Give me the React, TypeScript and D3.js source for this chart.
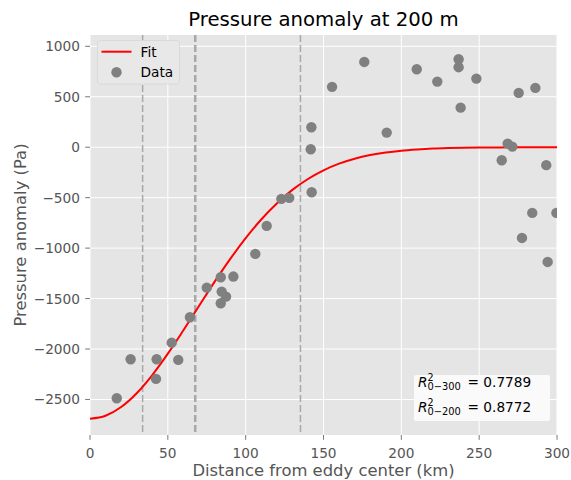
import React from "react";
import * as d3 from "d3";

// Observations: distance from eddy center (km) and pressure anomaly (Pa)
const dataX = [
  17.2, 26.1, 42.4, 42.8, 52.5, 56.7, 64.2, 75.0, 84.0, 92.1, 84.6, 87.4, 84.0,
  106.2, 113.5, 122.9, 128.0, 142.2, 141.8, 142.4, 190.6,
  155.5, 176.2, 209.9, 223.1, 236.8, 236.8, 238.1, 248.2, 264.5, 268.3, 271.3,
  275.4, 286.1, 293.1, 284.1, 299.6, 277.5, 294.0,
];
const dataY = [
  -2488, -2101, -2296, -2101, -1937, -2108, -1685, -1392, -1289, -1282, -1431, -1481, -1546,
  -1057, -780, -512, -502, 198, -20, -446, 145,
  598, 845, 773, 650, 872, 793, 392, 680, -129, 36, 6,
  538, 588, -178, -651, -651, -899, -1137,
];

// Fit curve
const fitX = [0, 10, 20, 30, 40, 50, 60, 70, 80, 90, 100, 110, 120, 130, 140, 150, 160, 170, 180, 190, 200, 210, 220, 230, 240, 250, 260, 270, 280, 290, 300];
const fitY = [-2690, -2661, -2575, -2438, -2258, -2046, -1814, -1574, -1335, -1109, -901, -716, -557, -423, -315, -229, -163, -114, -78, -52, -34, -22, -13, -8, -5, -3, -2, -1, -0.5, 0, 0];

// Reference distances (vertical dashed lines)
const refLines = [33.8, 67.6, 135.2];
const refWidths = [1.5, 2.5, 1.5];

const xTicks = [0, 50, 100, 150, 200, 250, 300];
const yTicks = [1000, 500, 0, -500, -1000, -1500, -2000, -2500];

const r2Labels = ["0\u2212300", "0\u2212200"];
const r2Values = ["0.7789", "0.8772"];

const W = 571;
const H = 480;
const L = 90;
const R = 557;
const T = 35;
const B = 435;

const FONT = "'DejaVu Sans', sans-serif";
const GREY = "#555555";
const TICK_FS = 13.7;

export default function App() {
  const x = d3.scaleLinear().domain([0, 300]).range([L, R]);
  const y = d3.scaleLinear().domain([-2852, 1112]).range([B, T]);

  const line = d3
    .line<number>()
    .x((_, i) => x(fitX[i]))
    .y((d) => y(d))
    .curve(d3.curveMonotoneX);

  const fmt = (v: number) => (v < 0 ? "\u2212" + Math.abs(v) : String(v));

  return (
    <svg
      width={W}
      height={H}
      style={{ position: "absolute", left: 0, top: 0, display: "block" }}
      fontFamily={FONT}
    >
      <rect x={0} y={0} width={W} height={H} fill="white" />
      <defs>
        <clipPath id="plot">
          <rect x={L} y={T} width={R - L} height={B - T} />
        </clipPath>
      </defs>
      <rect x={L} y={T} width={R - L} height={B - T} fill="#E5E5E5" />
      {/* grid */}
      {xTicks.map((t) => (
        <line key={"gx" + t} x1={x(t)} x2={x(t)} y1={T} y2={B} stroke="white" strokeWidth={1} />
      ))}
      {yTicks.map((t) => (
        <line key={"gy" + t} x1={L} x2={R} y1={y(t)} y2={y(t)} stroke="white" strokeWidth={1} />
      ))}
      <g clipPath="url(#plot)">
        {refLines.map((v, i) => (
          <line
            key={"ref" + i}
            x1={x(v)}
            x2={x(v)}
            y1={T}
            y2={B}
            stroke="#A8A8A8"
            strokeWidth={refWidths[i]}
            strokeDasharray="7 3"
          />
        ))}
        <path d={line(fitY) || ""} fill="none" stroke="red" strokeWidth={2} />
        {dataX.map((v, i) => (
          <circle key={"p" + i} cx={x(v)} cy={y(dataY[i])} r={5.2} fill="#808080" />
        ))}
      </g>
      {/* x ticks */}
      {xTicks.map((t) => (
        <g key={"xt" + t}>
          <line x1={x(t)} x2={x(t)} y1={B} y2={B + 4.8} stroke={GREY} strokeWidth={0.8} />
          <text x={x(t)} y={B + 23} textAnchor="middle" fontSize={TICK_FS} fill={GREY}>
            {t}
          </text>
        </g>
      ))}
      {/* y ticks */}
      {yTicks.map((t) => (
        <g key={"yt" + t}>
          <line x1={L - 4.8} x2={L} y1={y(t)} y2={y(t)} stroke={GREY} strokeWidth={0.8} />
          <text x={L - 10} y={y(t) + 5} textAnchor="end" fontSize={TICK_FS} fill={GREY}>
            {fmt(t)}
          </text>
        </g>
      ))}
      {/* axis labels */}
      <text x={(L + R) / 2} y={476} textAnchor="middle" fontSize={16.4} fill={GREY}>
        Distance from eddy center (km)
      </text>
      <text
        transform={`translate(25.5, ${(T + B) / 2}) rotate(-90)`}
        textAnchor="middle"
        fontSize={16.4}
        fill={GREY}
      >
        Pressure anomaly (Pa)
      </text>
      {/* title */}
      <text x={(L + R) / 2} y={26} textAnchor="middle" fontSize={19.7} fill="black">
        Pressure anomaly at 200 m
      </text>
      {/* legend */}
      <rect x={97.5} y={40.5} width={82} height={43.5} rx={3} fill="#E8E8E8" stroke="#D6D6D6" strokeWidth={0.8} />
      <line x1={101.5} x2={131.5} y1={51.7} y2={51.7} stroke="red" strokeWidth={2} />
      <text x={140.5} y={56.8} fontSize={13.7} fill="black">
        Fit
      </text>
      <circle cx={116.5} cy={72.3} r={5.2} fill="#808080" />
      <text x={140.5} y={77.3} fontSize={13.7} fill="black">
        Data
      </text>
      {/* R^2 box */}
      <rect x={414} y={375} width={136} height={46} rx={2} fill="#FAFAFA" />
      {r2Labels.map((lab, i) => {
        const by = 386.5 + i * 25;
        return (
          <g key={"r2" + i}>
            <text x={418} y={by} fontSize={13.7} fontStyle="italic" fill="black">
              R
            </text>
            <text x={427.5} y={by - 6} fontSize={9.6} fill="black">
              2
            </text>
            <text x={427.5} y={by + 3.5} fontSize={9.9} fill="black">
              {lab}
            </text>
            <text x={467.5} y={by} fontSize={13.7} fill="black">
              {"= " + r2Values[i]}
            </text>
          </g>
        );
      })}
    </svg>
  );
}
